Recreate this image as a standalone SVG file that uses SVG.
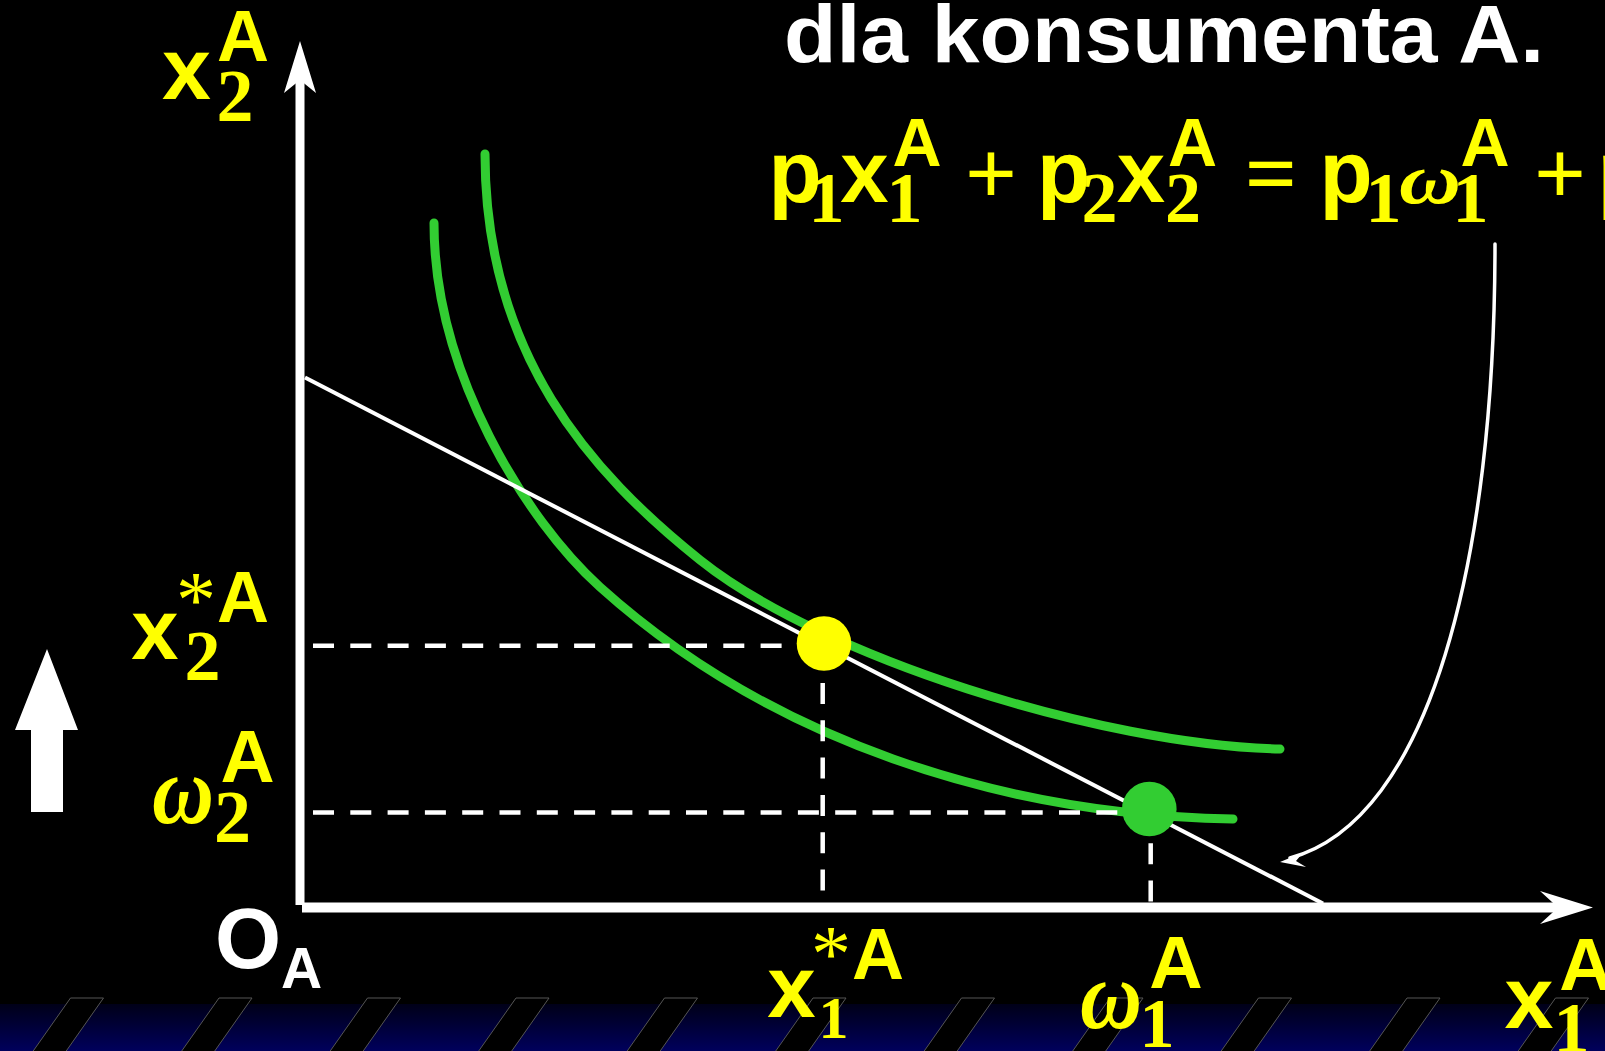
<svg xmlns="http://www.w3.org/2000/svg" width="1605" height="1051" viewBox="0 0 1605 1051">
<style>
.ab{font-family:"Liberation Sans",Arial,sans-serif;font-weight:bold}
.tr{font-family:"Liberation Serif","Times New Roman",serif;font-weight:bold}
.ti{font-family:"Liberation Serif","Times New Roman",serif;font-style:italic;font-weight:bold}
.op{font-family:"Liberation Serif","Times New Roman",serif}
.y{fill:#FFFF00}
.w{fill:#FFFFFF}
.m{text-anchor:middle}
.curve{fill:none;stroke:#32CD32;stroke-width:9;stroke-linecap:round}
.dash{fill:none;stroke:#FFFFFF;stroke-width:4.5;stroke-dasharray:21 16.3}
.stripe{fill:#000000;stroke:#555555;stroke-width:1}
</style>
<defs>
<linearGradient id="band" x1="0" y1="0" x2="0" y2="1">
<stop offset="0" stop-color="#000018"/>
<stop offset="1" stop-color="#00005C"/>
</linearGradient>
</defs>
<rect x="0" y="0" width="1605" height="1051" fill="#000000"/>
<g id="bottom-band">
<rect x="0" y="1004" width="1605" height="47" fill="url(#band)"/>
<g id="stripes">
<polygon class="stripe" points="70.5,998 103.5,998 65.5,1052 32.5,1052"/>
<polygon class="stripe" points="219,998 252,998 214,1052 181,1052"/>
<polygon class="stripe" points="367.5,998 400.5,998 362.5,1052 329.5,1052"/>
<polygon class="stripe" points="516,998 549,998 511,1052 478,1052"/>
<polygon class="stripe" points="664.5,998 697.5,998 659.5,1052 626.5,1052"/>
<polygon class="stripe" points="813,998 846,998 808,1052 775,1052"/>
<polygon class="stripe" points="961.5,998 994.5,998 956.5,1052 923.5,1052"/>
<polygon class="stripe" points="1110,998 1143,998 1105,1052 1072,1052"/>
<polygon class="stripe" points="1258.5,998 1291.5,998 1253.5,1052 1220.5,1052"/>
<polygon class="stripe" points="1407,998 1440,998 1402,1052 1369,1052"/>
<polygon class="stripe" points="1555.5,998 1588.5,998 1550.5,1052 1517.5,1052"/>
</g>
</g>
<g id="title">
<text class="ab w" x="784" y="62" font-size="82" textLength="760" lengthAdjust="spacingAndGlyphs">dla konsumenta A.</text>
</g>
<g id="curves">
<path id="ic-high" class="curve" d="M485,154 C485,354 590,472 700,560 C820,656 1100,745 1280,749"/>
<path id="ic-low" class="curve" d="M434,223 C434,373 526,520 600,587 C770,740 1000,815 1233,819"/>
</g>
<g id="connectors">
<line id="budget-line" x1="305" y1="377.5" x2="1323" y2="903.5" stroke="#FFFFFF" stroke-width="4"/>
<line class="dash" x1="313" y1="645.7" x2="824" y2="645.7"/>
<line class="dash" x1="313" y1="812.5" x2="1149" y2="812.5"/>
<line class="dash" x1="822.7" y1="645.7" x2="822.7" y2="905"/>
<line class="dash" x1="1150.7" y1="806" x2="1150.7" y2="905"/>
<path id="curved-arrow" d="M1495,244 C1495,560 1430,820 1290,858" fill="none" stroke="#FFFFFF" stroke-width="3.5" stroke-linecap="round"/>
<polygon points="1280,862 1303,852.5 1296,861 1306,867" fill="#FFFFFF"/>
</g>
<g id="axes">
<rect x="295.5" y="80" width="9" height="825" fill="#FFFFFF"/>
<polygon points="300,41 316,93 300,80 284,93" fill="#FFFFFF"/>
<rect x="302" y="902.5" width="1258" height="10" fill="#FFFFFF"/>
<polygon points="1593,907.5 1540,891 1558,907.5 1540,924" fill="#FFFFFF"/>
</g>
<g id="point-optimum">
<circle cx="824" cy="643.5" r="27.3" fill="#FFFF00"/>
</g>
<g id="point-endowment">
<circle cx="1149.3" cy="809" r="27.3" fill="#32CD32"/>
</g>
<g id="up-arrow">
<polygon points="47,649 78,730 63,730 63,812 31,812 31,730 15,730" fill="#FFFFFF"/>
</g>
<g id="equation">
<text class="ab y m" x="795" y="202" font-size="87">p</text>
<text class="tr y m" x="826.5" y="222" font-size="72">1</text>
<text class="ab y m" x="864.5" y="202" font-size="87">x</text>
<text class="tr y m" x="904.5" y="222" font-size="72">1</text>
<text class="ab y m" x="917" y="166" font-size="68">A</text>
<text class="op y m" x="991" y="204" font-size="92" font-weight="bold">+</text>
<text class="ab y m" x="1063.5" y="202" font-size="87">p</text>
<text class="tr y m" x="1099.5" y="222" font-size="72">2</text>
<text class="ab y m" x="1141" y="202" font-size="87">x</text>
<text class="tr y m" x="1183" y="222" font-size="72">2</text>
<text class="ab y m" x="1192.5" y="166" font-size="68">A</text>
<text class="op y m" x="1271" y="204" font-size="92" font-weight="bold">=</text>
<text class="ab y m" x="1346" y="202" font-size="87">p</text>
<text class="tr y m" x="1383.5" y="222" font-size="72">1</text>
<text class="ti y m" x="1430" y="203" font-size="72" textLength="62" lengthAdjust="spacingAndGlyphs">ω</text>
<text class="tr y m" x="1470.5" y="222" font-size="72">1</text>
<text class="ab y m" x="1485" y="166" font-size="68">A</text>
<text class="op y m" x="1560" y="204" font-size="92" font-weight="bold">+</text>
<text class="ab y m" x="1624" y="202" font-size="87">p</text>
</g>
<g id="label-x2">
<text class="ab y m" x="186.5" y="99" font-size="88">x</text>
<text class="tr y m" x="235" y="121" font-size="74">2</text>
<text class="ab y m" x="243" y="61" font-size="72">A</text>
</g>
<g id="label-x2-star">
<text class="ab y m" x="155" y="659" font-size="85">x</text>
<text class="tr y m" x="202.5" y="680" font-size="72">2</text>
<text class="op y m" x="196" y="627" font-size="80">*</text>
<text class="ab y m" x="243" y="622" font-size="72">A</text>
</g>
<g id="label-w2">
<text class="ti y m" x="183" y="823" font-size="98" textLength="62" lengthAdjust="spacingAndGlyphs">ω</text>
<text class="tr y m" x="232.5" y="842" font-size="74">2</text>
<text class="ab y m" x="247.5" y="782" font-size="75">A</text>
</g>
<g id="label-origin">
<text class="ab w m" x="248" y="968" font-size="85">O</text>
<text class="ab w m" x="301.5" y="988" font-size="57">A</text>
</g>
<g id="label-x1-star">
<text class="ab y m" x="791.5" y="1017" font-size="87">x</text>
<text class="tr y m" x="833.5" y="1038" font-size="60">1</text>
<text class="op y m" x="831" y="981" font-size="80">*</text>
<text class="ab y m" x="878" y="979" font-size="72">A</text>
</g>
<g id="label-w1">
<text class="ti y m" x="1111" y="1028" font-size="98" textLength="62" lengthAdjust="spacingAndGlyphs">ω</text>
<text class="tr y m" x="1157" y="1047" font-size="70">1</text>
<text class="ab y m" x="1176" y="988" font-size="74">A</text>
</g>
<g id="label-x1">
<text class="ab y m" x="1529" y="1028" font-size="88">x</text>
<text class="tr y m" x="1571.5" y="1052" font-size="72">1</text>
<text class="ab y m" x="1586" y="990" font-size="74">A</text>
</g>
</svg>
